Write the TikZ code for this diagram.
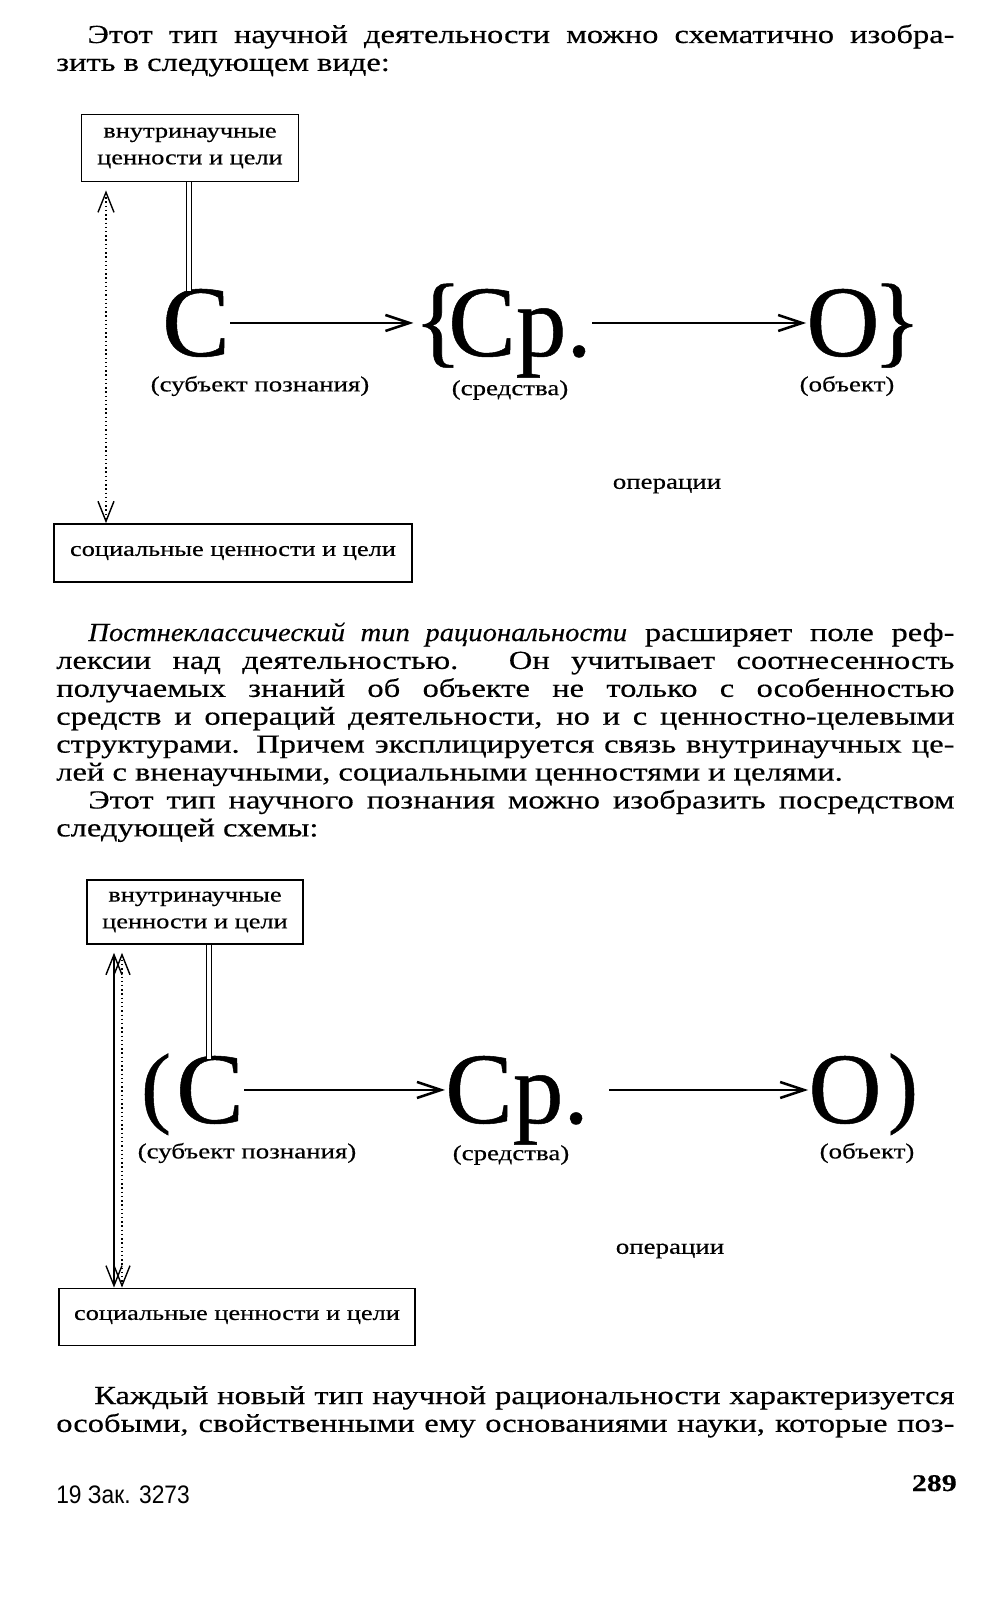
\documentclass[tikz,border=0pt]{standalone}
\usepackage{fontspec}
\setmainfont[FakeStretch=1.25,FakeBold=0.4,ItalicFeatures={FakeStretch=1.1}]{Liberation Serif}
\newfontfamily\bigfont[FakeBold=0.5]{Liberation Serif}
\newfontfamily\footfont[FakeStretch=0.9]{Liberation Sans}
\usetikzlibrary{arrows.meta}
\hyphenpenalty=10000
\exhyphenpenalty=10000
\tolerance=10000

\begin{document}
\begin{tikzpicture}[x=0.025cm,y=-0.025cm,
  txt/.style={anchor=base west,inner sep=0,text width=22.45cm,align=justify,font=\fontsize{18.5}{19.85}\selectfont},
  box/.style={draw,line width=1.2pt,inner sep=0,align=center,font=\fontsize{15}{19}\selectfont},
  big/.style={anchor=base,inner sep=0,font=\bigfont\fontsize{72}{72}\selectfont},
  paren/.style={anchor=base,inner sep=0,font=\bigfont\fontsize{64}{64}\selectfont},
  lbl/.style={inner sep=0,font=\fontsize{15.3}{15.3}\selectfont},
  arr/.style={line width=1.8pt,-{Straight Barb[length=6mm,width=4mm]}},
  vert/.style={line width=1pt,shorten <=0.2cm,{Straight Barb[length=5mm,width=4mm]}-{Straight Barb[length=5mm,width=4mm]}},
  dbl/.style={double,line width=1pt,double distance=0.1cm}]
\useasboundingbox (0,0) rectangle (1005,1601);

\node[txt] (p1) at (56,43) {\hspace*{0.78cm}Этот тип научной деятельности можно схематично изобра-\linebreak
зить в следующем виде:};

\node[box,minimum width=5.43cm,minimum height=1.68cm] (inner1) at (190,148) {внутринаучные\\ценности и цели};
\node[big] (c1) at (196,356) {С};
\node[big] (lb1) at (438,354) {\{};
\node[big] (sr1) at (520,356) {Ср.};
\node[big] (o1) at (843,356) {О};
\node[big] (rb1) at (897,354) {\}};
\node[lbl] (subj1) at (260,386) {(субъект познания)};
\node[lbl] (means1) at (510,390) {(средства)};
\node[lbl] (obj1) at (847,386) {(объект)};
\node[lbl] (oper1) at (667,486) {операции};
\node[box,minimum width=8.95cm,minimum height=1.45cm] (soc1) at (233,553) {социальные ценности и цели};
\coordinate (k1) at (189,291);
\coordinate (d1) at (106,0);
\draw[dbl] (inner1.south -| k1) -- (k1);
\draw[arr] (c1.east) -- (c1.east -| lb1.west);
\draw[arr] (c1.east -| sr1.east) -- (c1.east -| o1.west);
\draw[vert,dotted] (inner1.south -| d1) -- (soc1.north -| d1);

\node[txt] (p2) at (56,641) {\hspace*{0.8cm}\textit{Постнеклассический тип рациональности} расширяет поле реф-\linebreak
лексии над деятельностью. Он учитывает соотнесенность\linebreak
получаемых знаний об объекте не только с особенностью\linebreak
средств и операций деятельности, но и с ценностно-целевыми\linebreak
структурами. Причем эксплицируется связь внутринаучных це-\linebreak
лей с вненаучными, социальными ценностями и целями.\par
\hspace*{0.8cm}Этот тип научного познания можно изобразить посредством\linebreak
следующей схемы:};

\node[box,minimum width=5.4cm,minimum height=1.6cm] (inner2) at (195,912) {внутринаучные\\ценности и цели};
\node[paren] (lp2) at (156,1116) {(};
\node[big] (c2) at (210,1123) {С};
\node[big] (sr2) at (517,1123) {Ср.};
\node[big] (o2) at (845,1123) {О};
\node[paren] (rp2) at (903,1116) {)};
\node[lbl] (subj2) at (247,1153) {(субъект познания)};
\node[lbl] (means2) at (511,1155) {(средства)};
\node[lbl] (obj2) at (867,1153) {(объект)};
\node[lbl] (oper2) at (670,1251) {операции};
\node[box,minimum width=8.9cm,minimum height=1.43cm] (soc2) at (237,1317) {социальные ценности и цели};
\coordinate (k2) at (209,1059);
\coordinate (d2) at (114,0);
\coordinate (e2) at (122,0);
\draw[dbl] (inner2.south -| k2) -- (k2);
\draw[arr] (c2.east) -- (c2.east -| sr2.west);
\draw[arr,shorten <=0.5cm] (c2.east -| sr2.east) -- (c2.east -| o2.west);
\draw[vert] (inner2.south -| d2) -- (soc2.north -| d2);
\draw[vert,dotted] (inner2.south -| e2) -- (soc2.north -| e2);

\node[txt] (p3) at (56,1404) {\hspace*{0.95cm}Каждый новый тип научной рациональности характеризуется\linebreak
особыми, свойственными ему основаниями науки, которые поз-\linebreak\mbox{}};

\node[anchor=base west,inner sep=0,font=\footfont\fontsize{18}{18}\selectfont] (order) at (56,1503) {19 Зак. 3273};
\node[anchor=base east,inner sep=0,font=\fontsize{17}{17}\selectfont\bfseries] (page) at (957,1491) {289};
\end{tikzpicture}
\end{document}
